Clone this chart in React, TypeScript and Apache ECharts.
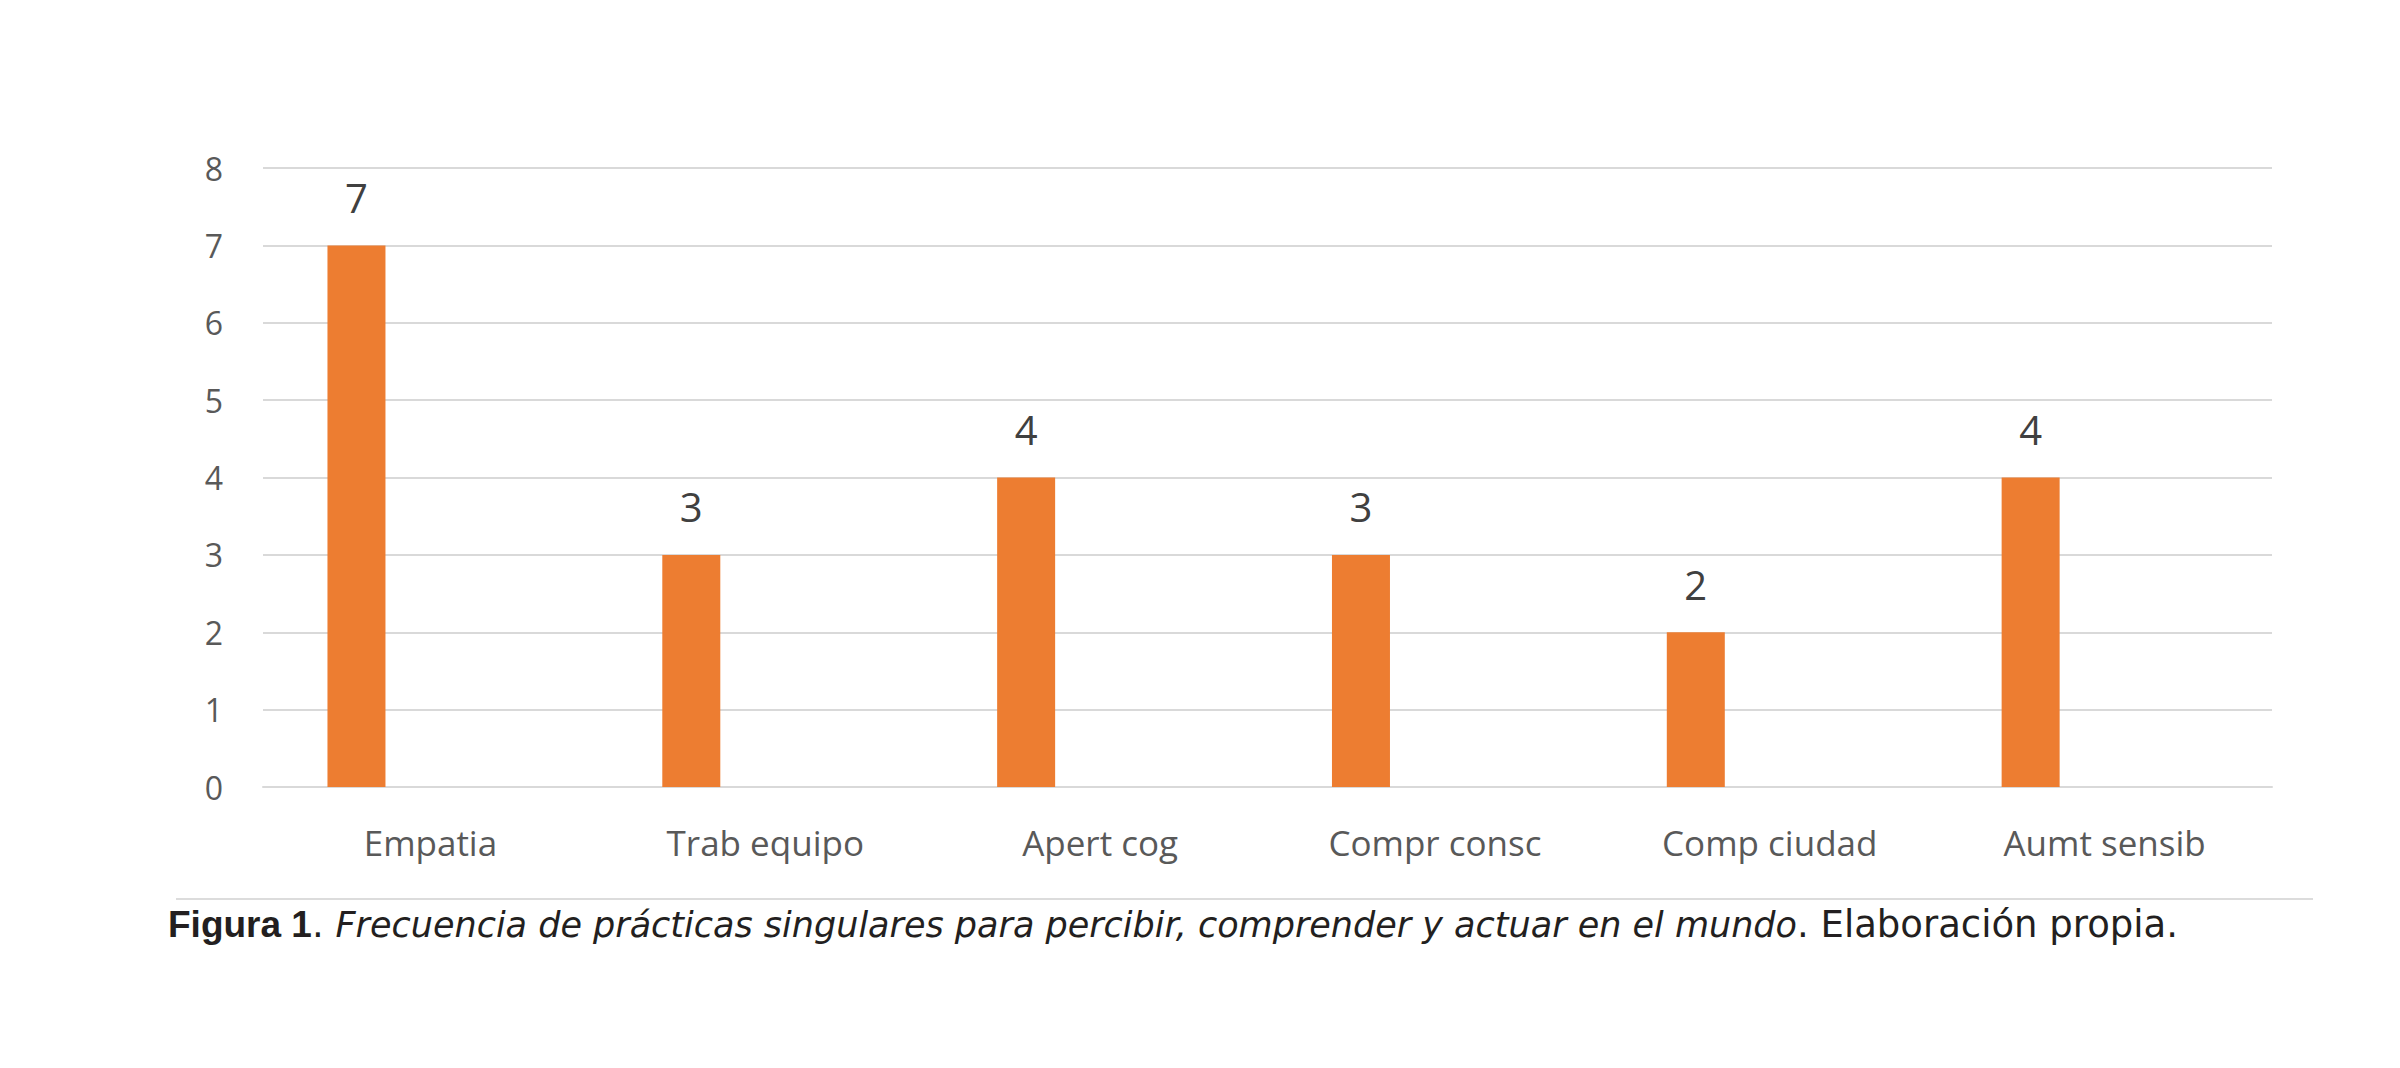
import React, { useEffect, useRef } from "react";
import * as echarts from "echarts";

const categories = ["Empatia", "Trab equipo", "Apert cog", "Compr consc", "Comp ciudad", "Aumt sensib"];
const frequencyValues = [7, 3, 4, 3, 2, 4];
const emptySeriesValues = [null, null, null, null, null, null];
const yTicks = { min: 0, max: 8, interval: 1 };
const captionBold = "Figura 1";
const captionItalic = "Frecuencia de prácticas singulares para percibir, comprender y actuar en el mundo";
const captionTail = ". Elaboración propia.";

export default function App() {
  const ref = useRef<HTMLDivElement>(null);
  useEffect(() => {
    document.body.style.margin = "0";
    const chart = echarts.init(ref.current!, null, { renderer: "svg" });
    chart.setOption({
      animation: false,
      backgroundColor: "#ffffff",
      grid: { left: 263, right: 128, top: 168, bottom: 281, containLabel: false },
      xAxis: {
        type: "category",
        data: categories,
        axisLine: { show: true, lineStyle: { color: "#d9d9d9", width: 2 } },
        axisTick: { show: false },
        axisLabel: {
          color: "#595959",
          fontFamily: "Open Sans",
          fontSize: 35,
          margin: 38,
        },
      },
      yAxis: {
        type: "value",
        min: yTicks.min,
        max: yTicks.max,
        interval: yTicks.interval,
        axisLine: { show: false },
        axisTick: { show: false },
        splitLine: { show: true, lineStyle: { color: "#d9d9d9", width: 2 } },
        axisLabel: {
          color: "#595959",
          fontFamily: "Open Sans",
          fontSize: 32,
          margin: 40,
        },
      },
      series: [
        {
          name: "Frecuencia",
          type: "bar",
          data: frequencyValues,
          barWidth: 58,
          barGap: "155%",
          itemStyle: { color: "#ED7D31" },
          label: {
            show: true,
            position: "top",
            distance: 28,
            color: "#404040",
            fontFamily: "Open Sans",
            fontSize: 40,
            lineHeight: 40,
          },
        },
        {
          name: "spacer",
          type: "bar",
          data: emptySeriesValues,
          barWidth: 58,
          itemStyle: { color: "transparent" },
        },
      ],
      graphic: [
        {
          type: "line",
          shape: { x1: 176, y1: 899, x2: 2313, y2: 899 },
          style: { stroke: "#dcdcdc", lineWidth: 2 },
        },
        {
          type: "text",
          left: 168,
          top: 906,
          style: {
            text:
              "{b|" + captionBold + "}{r|. }{i|" + captionItalic + "}{r|" + captionTail + "}",
            rich: {
              b: { fontFamily: "Liberation Sans", fontWeight: "bold", fontSize: 37, fill: "#231f20", lineHeight: 40 },
              r: { fontFamily: "DejaVu Sans", fontSize: 37, fill: "#231f20", lineHeight: 40 },
              i: { fontFamily: "DejaVu Sans", fontStyle: "italic", fontSize: 35, fill: "#231f20", lineHeight: 40 },
            },
          },
        },
      ],
    });
    return () => chart.dispose();
  }, []);
  return (
    <div
      ref={ref}
      style={{ position: "fixed", left: 0, top: 0, width: 2400, height: 1068 }}
    />
  );
}
